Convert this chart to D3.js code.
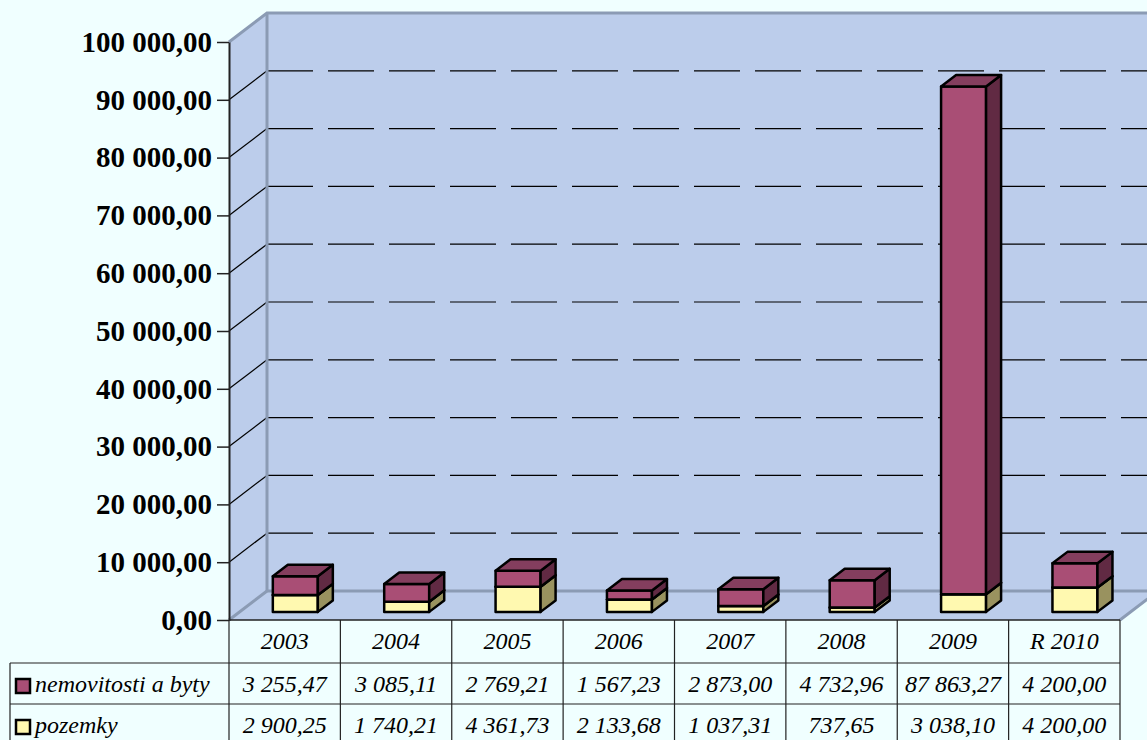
<!DOCTYPE html>
<html>
<head>
<meta charset="utf-8">
<script src="https://cdn.jsdelivr.net/npm/d3@7"></script>
<style>
  body { margin: 0; background: #f0ffff; }
  svg { display: block; }
</style>
</head>
<body>
<svg id="chart" width="1147" height="740"></svg>
<script>
// data
var categories = ["2003", "2004", "2005", "2006", "2007", "2008", "2009", "R 2010"];
var seriesNames = ["nemovitosti a byty", "pozemky"];
var nemovitosti = [3255.47, 3085.11, 2769.21, 1567.23, 2873.00, 4732.96, 87863.27, 4200.00];
var pozemky = [2900.25, 1740.21, 4361.73, 2133.68, 1037.31, 737.65, 3038.10, 4200.00];
var yTicks = [0, 10000, 20000, 30000, 40000, 50000, 60000, 70000, 80000, 90000, 100000];

var svg = d3.select("#chart");

var cz = d3.formatLocale({ decimal: ",", thousands: " ", grouping: [3], currency: ["", ""] });
var fmt = cz.format(",.2f");

var x = d3.scaleBand().domain(categories).range([229, 1120]);
var y = d3.scaleLinear().domain([0, 100000]).range([620, 42]);

// depth of the 3d box
var DX = 38, DY = -29;
var wallFill = "#bccdeb", edge = "#8b9bb4";

function pts(a) { return a.map(function(p) { return p.join(","); }).join(" "); }

// back wall
svg.append("polygon")
    .attr("points", pts([[229 + DX, y(100000) + DY], [1147 + 20, y(100000) + DY], [1147 + 20, y(0) + DY], [229 + DX, y(0) + DY]]))
    .attr("fill", wallFill);
// left wall
svg.append("polygon")
    .attr("points", pts([[229, y(100000)], [229 + DX, y(100000) + DY], [229 + DX, y(0) + DY], [229, y(0)]]))
    .attr("fill", wallFill);
// floor
svg.append("polygon")
    .attr("points", pts([[229, y(0)], [1120, y(0)], [1120 + DX, y(0) + DY], [229 + DX, y(0) + DY]]))
    .attr("fill", wallFill);

// gridlines
var inner = yTicks.filter(function(v) { return v > 0 && v < 100000; });
svg.selectAll(".gridBack").data(inner).enter().append("line")
    .attr("x1", 229 + DX).attr("x2", 1160)
    .attr("y1", function(d) { return y(d) + DY; })
    .attr("y2", function(d) { return y(d) + DY; })
    .attr("stroke", "#000").attr("stroke-width", 1.2)
    .attr("stroke-dasharray", "46 15");
svg.selectAll(".gridSide").data(inner).enter().append("line")
    .attr("x1", 229).attr("x2", 229 + DX)
    .attr("y1", function(d) { return y(d); })
    .attr("y2", function(d) { return y(d) + DY; })
    .attr("stroke", "#000").attr("stroke-width", 1.2);

// wall edges
svg.append("path")
    .attr("d", "M229," + y(100000) + "L" + (229 + DX) + "," + (y(100000) + DY) + "L1160," + (y(100000) + DY))
    .attr("fill", "none").attr("stroke", edge).attr("stroke-width", 3);
svg.append("path")
    .attr("d", "M" + (229 + DX) + "," + (y(100000) + DY) + "L" + (229 + DX) + "," + (y(0) + DY) + "L1160," + (y(0) + DY))
    .attr("fill", "none").attr("stroke", edge).attr("stroke-width", 3);
svg.append("path")
    .attr("d", "M229," + y(0) + "L" + (229 + DX) + "," + (y(0) + DY) + "M1120," + y(0) + "L" + (1120 + DX) + "," + (y(0) + DY))
    .attr("fill", "none").attr("stroke", edge).attr("stroke-width", 3);

// bars
var f0 = 0.28, f1 = 0.675, barW = 45;
var colors = {
    nem: { front: "#a94e75", top: "#843e5e", side: "#612a43" },
    poz: { front: "#fff9b0", top: "#ddd796", side: "#99925f" }
};

var segs = [];
categories.forEach(function(c, i) {
    segs.push({ cat: c, v0: 0, v1: pozemky[i], col: colors.poz });
    segs.push({ cat: c, v0: pozemky[i], v1: pozemky[i] + nemovitosti[i], col: colors.nem });
});

var bars = svg.append("g").attr("stroke", "#000").attr("stroke-width", 2.5).attr("stroke-linejoin", "round");
segs.forEach(function(s) {
    var x0 = x(s.cat) + (x.bandwidth() - barW) / 2 + f0 * DX;
    var x1 = x0 + barW;
    var yb = y(s.v0) + f0 * DY, yt = y(s.v1) + f0 * DY;
    var dx = (f1 - f0) * DX, dy = (f1 - f0) * DY;
    var g = bars.append("g");
    g.append("polygon").attr("points", pts([[x0, yt], [x1, yt], [x1, yb], [x0, yb]])).attr("fill", s.col.front);
    g.append("polygon").attr("points", pts([[x1, yt], [x1 + dx, yt + dy], [x1 + dx, yb + dy], [x1, yb]])).attr("fill", s.col.side);
    g.append("polygon").attr("points", pts([[x0, yt], [x0 + dx, yt + dy], [x1 + dx, yt + dy], [x1, yt]])).attr("fill", s.col.top);
});

// y axis
var yAxis = d3.axisLeft(y).tickValues(yTicks).tickFormat(fmt).tickSize(12).tickSizeOuter(0).tickPadding(5);
var ax = svg.append("g").attr("transform", "translate(229,0)").call(yAxis);
ax.select(".domain").attr("stroke", "#222").attr("stroke-width", 2);
ax.selectAll(".tick line").attr("stroke", "#222").attr("stroke-width", 1.5);
ax.selectAll(".tick text")
    .attr("font-family", "Liberation Serif, Times New Roman, serif")
    .attr("font-weight", "bold").attr("font-size", 29).attr("fill", "#000");

// data table
var rowY = [620, 663, 704, 745];
var tbl = svg.append("g").attr("stroke", "#222").attr("stroke-width", 1.2);
tbl.append("line").attr("x1", 229).attr("x2", 1120).attr("y1", rowY[0]).attr("y2", rowY[0]).attr("stroke-width", 1.5);
tbl.append("line").attr("x1", 10).attr("x2", 1120).attr("y1", rowY[1]).attr("y2", rowY[1]);
tbl.append("line").attr("x1", 10).attr("x2", 1120).attr("y1", rowY[2]).attr("y2", rowY[2]);
tbl.append("line").attr("x1", 10).attr("x2", 10).attr("y1", rowY[1]).attr("y2", 745);
tbl.append("line").attr("x1", 229).attr("x2", 229).attr("y1", rowY[0]).attr("y2", 745);
tbl.selectAll(".vcol").data(categories).enter().append("line")
    .attr("x1", function(d) { return x(d) + x.bandwidth(); })
    .attr("x2", function(d) { return x(d) + x.bandwidth(); })
    .attr("y1", rowY[0]).attr("y2", 745);

var tfont = "Liberation Serif, Times New Roman, serif";
var txt = svg.append("g").attr("font-family", tfont).attr("font-style", "italic")
    .attr("font-size", 24).attr("fill", "#000").attr("text-anchor", "middle");
txt.selectAll(".hdr").data(categories).enter().append("text")
    .attr("x", function(d) { return x(d) + x.bandwidth() / 2; })
    .attr("y", 641).attr("dy", "0.35em")
    .text(function(d) { return d; });
[nemovitosti, pozemky].forEach(function(vals, r) {
    txt.selectAll(".r" + r).data(vals).enter().append("text")
        .attr("x", function(d, i) { return x(categories[i]) + x.bandwidth() / 2; })
        .attr("y", r == 0 ? 684 : 725).attr("dy", "0.35em")
        .text(function(d) { return fmt(d); });
});

// legend keys in the table
var keyCols = [colors.nem.front, colors.poz.front];
seriesNames.forEach(function(n, r) {
    var cy = r == 0 ? 686 : 727;
    svg.append("rect").attr("x", 16).attr("y", cy - 7).attr("width", 14).attr("height", 14)
        .attr("fill", keyCols[r]).attr("stroke", "#000").attr("stroke-width", 2.5);
    svg.append("text").attr("x", 35).attr("y", cy - 2).attr("dy", "0.35em")
        .attr("font-family", tfont).attr("font-style", "italic").attr("font-size", 24)
        .text(n);
});
</script>
</body>
</html>
